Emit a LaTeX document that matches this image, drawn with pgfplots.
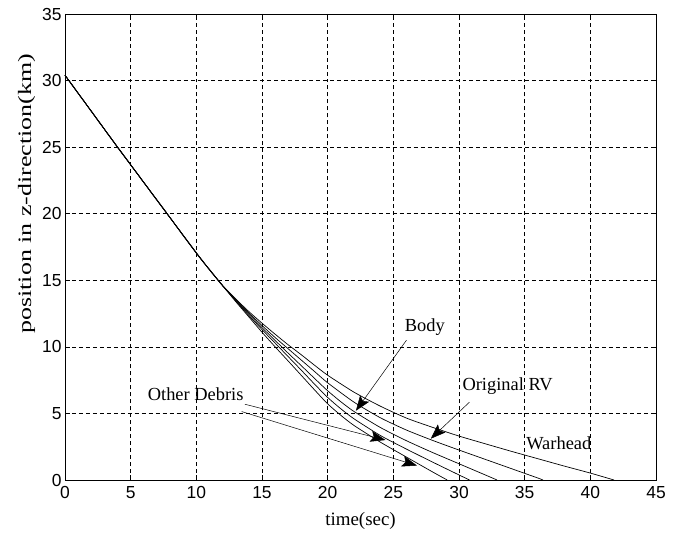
\documentclass[border=0pt]{standalone}
\usepackage{fontspec}
\setmainfont{Liberation Serif}
\newfontfamily\tickfont{Liberation Sans}
\usepackage{graphicx}
\usepackage{pgfplots}
\pgfplotsset{compat=1.18}
\usetikzlibrary{arrows.meta}
\begin{document}
\begin{tikzpicture}
\useasboundingbox (-65bp,-53bp) rectangle (614bp,480bp);
\begin{axis}[
 at={(0,0)}, anchor=south west,
 scale only axis, width=591bp, height=466bp,
 xmin=0, xmax=45, ymin=0, ymax=35,
 xtick={0,5,...,45}, ytick={0,5,...,35},
 grid=major,
 major grid style={black, line width=0.5pt, dash pattern=on 4pt off 3pt},
 tick align=inside, major tick length=5bp,
 axis line style={black, line width=0.8pt},
 tick style={black, line width=0.6pt},
 ticklabel style={font=\tickfont\fontsize{17.5}{17.5}\selectfont},
 xticklabel style={yshift=-3bp},
 /pgf/number format/assume math mode=true,
 xlabel={time(sec)},
 ylabel={\scalebox{1.37}[1]{position in z-direction(km)}},
 label style={font=\fontsize{19}{20}\selectfont},
 xlabel style={yshift=-7bp},
 ylabel style={at={(ticklabel cs:0.614)}},
 every axis plot/.append style={black, line width=0.7pt},
 clip=false,
]
% Warhead
\addplot[smooth, tension=0.4] coordinates {(0,30.4) (2,27.7) (4,25.0) (6,22.35) (8,19.7) (10,17.05) (11,15.8) (12,14.6) (13,13.6) (14,12.65) (15,11.78) (16,10.95) (17,10.15) (18,9.4) (19,8.62) (20,7.87) (22,6.6) (24,5.55) (26,4.65) (28,3.95) (30,3.3) (32,2.72) (34,2.15) (36,1.6) (38,1.05) (40,0.52) (41.8,0)};
% Original RV
\addplot[smooth, tension=0.4] coordinates {(0,30.4) (2,27.7) (4,25.0) (6,22.35) (8,19.7) (10,17.05) (11,15.8) (12,14.6) (13,13.55) (14,12.55) (15,11.6) (16,10.7) (17,9.85) (18,9.0) (19,8.15) (20,7.3) (22,5.85) (24,4.68) (26,3.75) (28,2.97) (30,2.25) (32,1.55) (34,0.85) (36,0.15) (36.4,0)};
% Body
\addplot[smooth, tension=0.4] coordinates {(0,30.4) (2,27.7) (4,25.0) (6,22.35) (8,19.7) (10,17.05) (11,15.8) (12,14.6) (13,13.5) (14,12.45) (15,11.45) (16,10.48) (17,9.52) (18,8.58) (19,7.63) (20,6.7) (21,5.88) (22,5.15) (24,3.95) (26,2.95) (28,2.06) (30,1.22) (32,0.38) (32.9,0)};
% Debris 1
\addplot[smooth, tension=0.4] coordinates {(0,30.4) (2,27.7) (4,25.0) (6,22.35) (8,19.7) (10,17.05) (11,15.8) (12,14.6) (13,13.45) (14,12.35) (15,11.3) (16,10.28) (17,9.26) (18,8.24) (19,7.2) (20,6.2) (21,5.35) (22,4.6) (24,3.35) (26,2.32) (28,1.34) (30,0.38) (30.8,0)};
% Debris 2
\addplot[smooth, tension=0.4] coordinates {(0,30.4) (2,27.7) (4,25.0) (6,22.35) (8,19.7) (10,17.05) (11,15.8) (12,14.6) (13,13.4) (14,12.25) (15,11.1) (16,10.0) (17,8.93) (18,7.85) (19,6.77) (20,5.72) (21,4.86) (22,4.1) (24,2.85) (26,1.72) (28,0.6) (29.1,0)};
% annotation arrows
\addplot[line width=0.5pt, -{Stealth[length=15bp,width=11bp,inset=3bp]}] coordinates {(13.7,5.69) (24.4,3.0)};
\addplot[line width=0.5pt, -{Stealth[length=15bp,width=11bp,inset=3bp]}] coordinates {(13.45,5.14) (26.8,1.08)};
\addplot[line width=0.5pt, -{Stealth[length=15bp,width=11bp,inset=3bp]}] coordinates {(26.0,10.5) (22.15,5.2)};
\addplot[line width=0.5pt, -{Stealth[length=15bp,width=11bp,inset=3bp]}] coordinates {(30.8,5.85) (27.85,3.1)};
\node[font=\fontsize{18.5}{20}\selectfont] at (axis cs:27.4,11.5) {Body};
\node[font=\fontsize{18.5}{20}\selectfont] at (axis cs:33.7,7.07) {Original RV};
\node[font=\fontsize{18.5}{20}\selectfont] at (axis cs:37.6,2.75) {Warhead};
\node[font=\fontsize{18.5}{20}\selectfont] at (axis cs:9.95,6.45) {Other Debris};
\end{axis}
\end{tikzpicture}
\end{document}
